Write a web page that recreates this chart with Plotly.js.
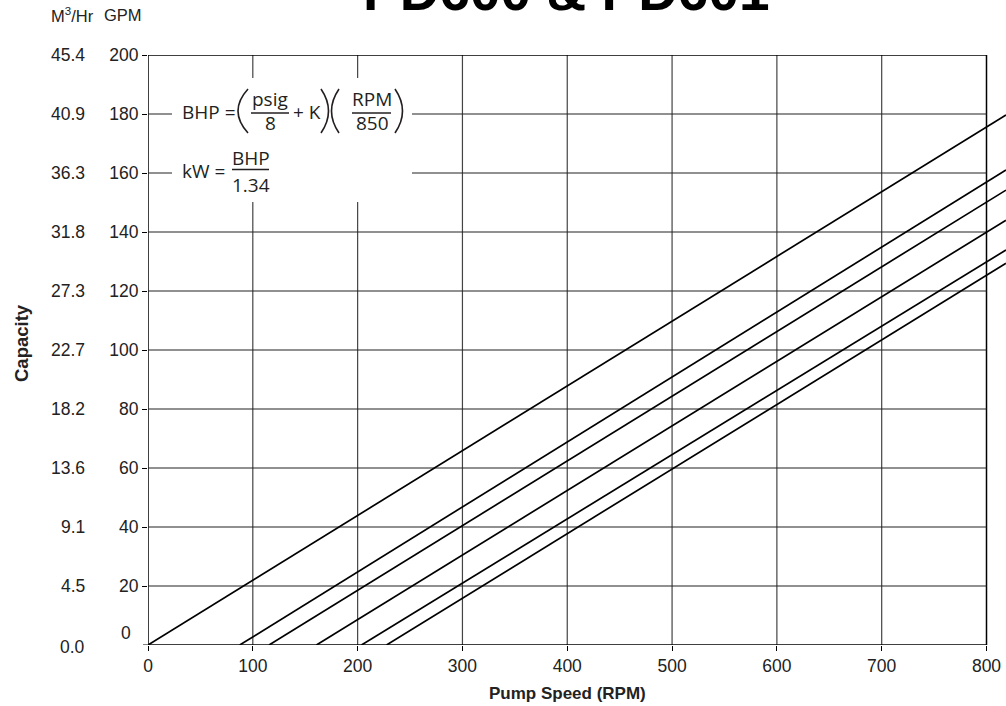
<!DOCTYPE html>
<html>
<head>
<meta charset="utf-8">
<script src="https://cdn.plot.ly/plotly-3.0.1.min.js"></script>
<style>html,body{margin:0;padding:0;background:#fff;}#chart{width:1006px;height:706px;}</style>
</head>
<body>
<div id="chart"></div>
<script>
// ---- data ----
const rpmTicks = [0, 100, 200, 300, 400, 500, 600, 700, 800];
const gpmTicks = [0, 20, 40, 60, 80, 100, 120, 140, 160, 180, 200];
const gpmLabelTicks = [20, 40, 60, 80, 100, 120, 140, 160, 180, 200];
const gpmLabels = ['20', '40', '60', '80', '100', '120', '140', '160', '180', '200'];
const m3hrLabels = ['0.0', '4.5', '9.1', '13.6', '18.2', '22.7', '27.3', '31.8', '36.3', '40.9', '45.4'];
// each curve: start point on the 0 GPM line, end point at the right edge of the picture
const rpmStart = [0, 87.5, 115.5, 160.7, 203.7, 227.6];
const rpmEnd = [818.6, 818.6, 818.6, 818.6, 818.6, 818.6];
const gpmEnd = [179.7, 161.0, 154.2, 144.0, 133.9, 129.4];

// ---- layout geometry ----
const L = 148, T = 55, R = 0, B = 61, FW = 1006, FH = 706;
const PW = FW - L - R, PH = FH - T - B;
const px = p => (p - L) / PW;
const py = p => 1 - (p - T) / PH;

const traces = rpmStart.map((s, i) => ({
  type: 'scatter', mode: 'lines',
  x: [s, rpmEnd[i]], y: [0, gpmEnd[i]],
  line: {color: '#000', width: 1.7},
  hoverinfo: 'skip'
}));

const shapes = [];
rpmTicks.forEach(v => {
  const frame = (v === 0 || v === 800);
  shapes.push({type: 'line', xref: 'x', yref: 'y', x0: v, x1: v, y0: 0, y1: 200,
    line: {color: frame ? '#000' : '#444', width: frame ? 1.5 : 1.2}, layer: 'below'});
});
gpmTicks.forEach(v => {
  const frame = (v === 0 || v === 200);
  shapes.push({type: 'line', xref: 'x', yref: 'y', x0: 0, x1: 800, y0: v, y1: v,
    line: {color: frame ? '#000' : '#222', width: frame ? 1.5 : 1.1}, layer: 'below'});
});
// tick mark for the 0 GPM line (its label is placed separately)
shapes.push({type: 'line', xref: 'paper', yref: 'y', x0: px(143), x1: px(148), y0: 0, y1: 0,
  line: {color: '#000', width: 1}, layer: 'above'});
// white panel behind the formula
shapes.push({type: 'rect', xref: 'paper', yref: 'paper', x0: px(172), x1: px(412), y0: py(202), y1: py(78),
  fillcolor: '#fff', line: {width: 0}, layer: 'above'});
// fraction bars
const bar = (a, b, y) => ({type: 'line', xref: 'paper', yref: 'paper', x0: px(a), x1: px(b), y0: py(y), y1: py(y),
  line: {color: '#231f20', width: 1.3}, layer: 'above'});
shapes.push(bar(251, 289, 113), bar(352, 391, 113), bar(232, 269, 169.5));
// parentheses
const paren = (xt, xc, yt, yb) => {
  const ym = (yt + yb) / 2;
  return {type: 'path', xref: 'paper', yref: 'paper', layer: 'above',
    path: 'M ' + px(xt) + ',' + py(yt) + ' Q ' + px(xc) + ',' + py(ym) + ' ' + px(xt) + ',' + py(yb),
    line: {color: '#231f20', width: 1.6}};
};
shapes.push(paren(248, 228, 89, 133), paren(321, 336, 89, 133), paren(339, 324, 89, 133), paren(395, 410, 89, 133));

const eqFont = {family: 'Open Sans, Noto Sans, sans-serif', size: 19, color: '#231f20'};
const tickFont = {family: 'Arial, Liberation Sans, sans-serif', size: 17.5, color: '#222'};
const ann = (text, x, y, xa, font, extra) => Object.assign({
  text: text, xref: 'paper', yref: 'paper', x: px(x), y: py(y), xanchor: xa, yanchor: 'middle',
  showarrow: false, font: font, borderpad: 0
}, extra || {});

const annotations = [
  ann('BHP =', 181, 111.5, 'left', eqFont),
  ann('psig', 270, 99, 'center', eqFont),
  ann('8', 270, 122.5, 'center', eqFont),
  ann('+ K', 292, 111.5, 'left', eqFont),
  ann('RPM', 371.5, 99.5, 'center', eqFont),
  ann('850', 372, 122.5, 'center', eqFont),
  ann('kW =', 181, 171, 'left', eqFont),
  ann('BHP', 250.5, 157.5, 'center', eqFont),
  ann('1.34', 251, 184.5, 'center', eqFont),
  // headers and extra labels
  ann('M<sup>3</sup>/Hr', 50, 15, 'left', {family: 'Arial, Liberation Sans, sans-serif', size: 16.5, color: '#222'}),
  ann('GPM', 143, 15, 'right', {family: 'Arial, Liberation Sans, sans-serif', size: 16.5, color: '#222'}),
  ann('0', 132, 633, 'right', tickFont),
  ann('<b>Pump Speed (RPM)</b>', 567, 693, 'center', {family: 'Arial, Liberation Sans, sans-serif', size: 17, color: '#222'}),
  ann('<b>Capacity</b>', 21, 343, 'center', {family: 'Arial, Liberation Sans, sans-serif', size: 18.5, color: '#222'}, {textangle: -90}),
  ann('<b>PD600 &amp; PD601</b>', 566, 22.7, 'center', {family: 'Arial, Liberation Sans, sans-serif', size: 55, color: '#000'}, {yanchor: 'bottom'})
];
gpmTicks.forEach((v, i) => {
  annotations.push({text: m3hrLabels[i], xref: 'paper', yref: 'y', x: px(87), y: v, xanchor: 'right', yanchor: 'middle',
    yshift: v === 0 ? -2 : 0, showarrow: false, font: tickFont});
});

const layout = {
  width: FW, height: FH,
  margin: {l: L, r: R, t: T, b: B, pad: 0},
  paper_bgcolor: '#fff', plot_bgcolor: '#fff',
  showlegend: false, hovermode: false,
  xaxis: {range: [0, 818.6], tickvals: rpmTicks, ticktext: rpmTicks.map(String), ticks: 'outside', ticklen: 5,
    tickcolor: '#000', showgrid: false, zeroline: false, showline: false, tickfont: tickFont, fixedrange: true},
  yaxis: {range: [0, 200], tickvals: gpmLabelTicks, ticktext: gpmLabels, ticks: 'outside', ticklen: 5,
    tickcolor: '#000', showgrid: false, zeroline: false, showline: false, tickfont: tickFont, fixedrange: true},
  shapes: shapes,
  annotations: annotations
};

Plotly.newPlot('chart', traces, layout, {displayModeBar: false, staticPlot: true});
</script>
</body>
</html>
